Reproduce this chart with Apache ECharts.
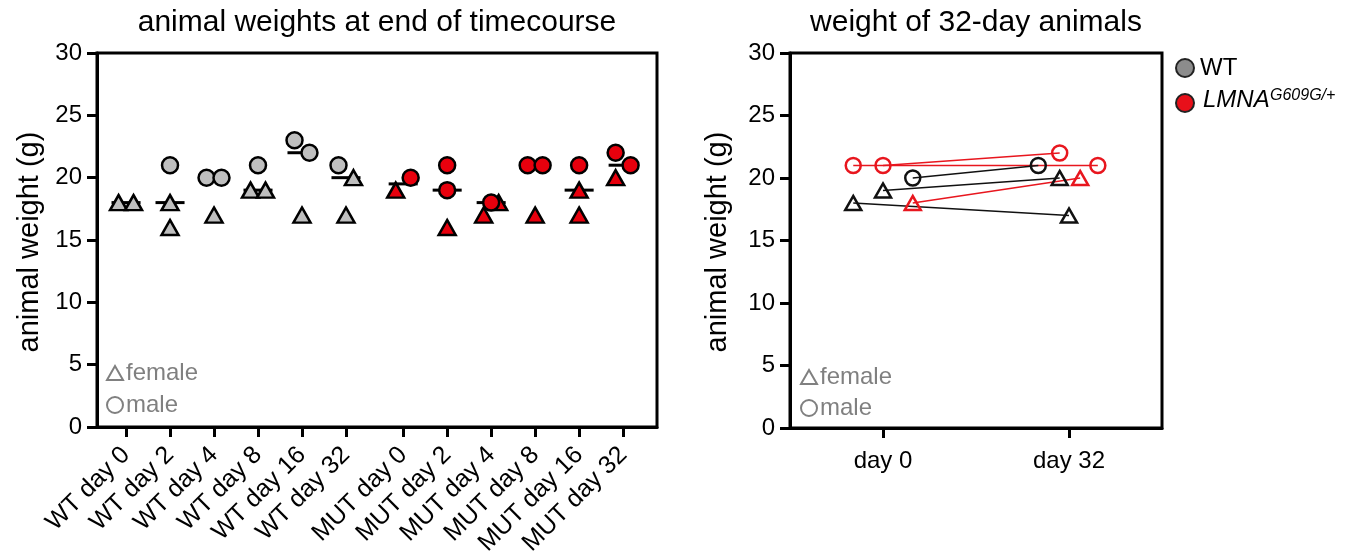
<!DOCTYPE html>
<html><head><meta charset="utf-8">
<script src="https://cdn.jsdelivr.net/npm/echarts@6/dist/echarts.min.js"></script>
<style>html,body{margin:0;padding:0;background:#fff}#c{width:1348px;height:558px}</style>
</head><body><div id="c"></div>
<script>
// ---------- data: left panel ----------
const groups = ['WT day 0','WT day 2','WT day 4','WT day 8','WT day 16','WT day 32',
                'MUT day 0','MUT day 2','MUT day 4','MUT day 8','MUT day 16','MUT day 32'];
const femaleWeights = [[18,18],[18,16],[17],[19,19],[17],[20,17],[19],[16],[17,18],[17],[19,17],[20]];
const femaleSlots   = [[-1,1],[0,0],[0],[-1,1],[0],[1,0],[-1],[0],[-1,1],[0],[0,0],[-1]];
const maleWeights   = [[],[21],[20,20],[21],[23,22],[21],[20],[21,19],[18],[21,21],[21],[22,21]];
const maleSlots     = [[],[0],[-1,1],[0],[-1,1],[-1],[1],[0,0],[0],[-1,1],[0],[-1,1]];

// ---------- data: right panel (one entry per animal) ----------
const dayLabels   = ['day 0','day 32'];
const animalGroup = ['MUT','MUT','WT','WT','WT','MUT'];
const animalSex   = ['male','male','male','female','female','female'];
const weightDay0  = [21,21,20,19,18,18];
const weightDay32 = [21,22,21,20,17,20];
const offsetDay0  = [-0.16,0,0.16,0,-0.16,0.16];
const offsetDay32 = [0.155,-0.05,-0.165,-0.05,0,0.06];

const FONT = 'Liberation Sans, Arial, Helvetica, sans-serif';
const GREY = '#bfbfbf', RED = '#e8000d', LEG = '#808080';
const pos = i => (i < 6 ? i : i + 0.3);
const positions = groups.map((g, i) => pos(i));
const JIT = 0.17;

function pts(weights, slots, from, to) {
  const out = [];
  for (let i = from; i < to; i++) weights[i].forEach((w, k) => out.push([pos(i) + slots[i][k] * JIT, w]));
  return out;
}
function median(a) {
  const s = a.slice().sort((x, y) => x - y), n = s.length;
  return n % 2 ? s[(n - 1) / 2] : (s[n / 2 - 1] + s[n / 2]) / 2;
}
const medians = groups.map((g, i) => [pos(i), median(femaleWeights[i].concat(maleWeights[i]))]);

const mk = (sym, fill, data) => ({
  type: 'scatter', xAxisIndex: 0, yAxisIndex: 0, symbol: sym,
  symbolSize: sym === 'triangle' ? [17, 15] : 16,
  itemStyle: { color: fill, borderColor: '#000', borderWidth: 2.5, opacity: 1 },
  data, z: sym === 'triangle' ? 3 : 4
});

const series = [
  {
    type: 'custom', xAxisIndex: 0, yAxisIndex: 0, z: 2, data: medians, encode: { x: 0, y: 1 },
    renderItem: (p, api) => {
      const x = api.value(0), m = api.value(1);
      const a = api.coord([x - 0.33, m]), b = api.coord([x + 0.33, m]);
      return { type: 'line', shape: { x1: a[0], y1: a[1], x2: b[0], y2: b[1] }, style: { stroke: '#000', lineWidth: 3 } };
    }
  },
  mk('triangle', GREY, pts(femaleWeights, femaleSlots, 0, 6)),
  mk('triangle', RED, pts(femaleWeights, femaleSlots, 6, 12)),
  mk('circle', GREY, pts(maleWeights, maleSlots, 0, 6)),
  mk('circle', RED, pts(maleWeights, maleSlots, 6, 12))
];

weightDay0.forEach((w0, i) => {
  const col = animalGroup[i] === 'WT' ? '#111' : '#e8161e';
  const tri = animalSex[i] === 'female';
  series.push({
    type: 'line', xAxisIndex: 1, yAxisIndex: 1,
    data: [[0 + offsetDay0[i], w0], [1 + offsetDay32[i], weightDay32[i]]],
    symbol: tri ? 'triangle' : 'circle', symbolSize: tri ? [16, 14] : 15, showSymbol: true,
    lineStyle: { color: col, width: 1.5 },
    itemStyle: { color: 'rgba(255,255,255,0)', borderColor: col, borderWidth: 2.5 },
    z: 3
  });
});

const yAxisBase = gi => ({
  type: 'value', gridIndex: gi, min: 0, max: 30, interval: 5,
  axisLine: { show: true, onZero: false, lineStyle: { color: '#000', width: 3 } },
  axisTick: { show: true, length: 10, lineStyle: { color: '#000', width: 3 } },
  axisLabel: { fontSize: 24, color: '#000', fontFamily: FONT, margin: 15 },
  splitLine: { show: false }
});

function sexKey(x, yF, yM) {
  return [
    { type: 'polygon', shape: { points: [[x - 8, yF + 7], [x + 8, yF + 7], [x, yF - 7]] }, style: { fill: 'none', stroke: LEG, lineWidth: 2 } },
    { type: 'text', x: x + 11, y: yF, style: { text: 'female', fontSize: 24, fontFamily: FONT, fill: LEG, align: 'left', verticalAlign: 'middle' } },
    { type: 'circle', shape: { cx: x, cy: yM, r: 8 }, style: { fill: 'none', stroke: LEG, lineWidth: 2 } },
    { type: 'text', x: x + 11, y: yM, style: { text: 'male', fontSize: 24, fontFamily: FONT, fill: LEG, align: 'left', verticalAlign: 'middle' } }
  ];
}

const option = {
  animation: false,
  backgroundColor: '#fff',
  grid: [
    { left: 97, top: 53, width: 560, height: 374, show: true, borderColor: '#000', borderWidth: 3, backgroundColor: 'transparent', outerBoundsMode: 'none' },
    { left: 790, top: 53, width: 372, height: 375, show: true, borderColor: '#000', borderWidth: 3, backgroundColor: 'transparent', outerBoundsMode: 'none' }
  ],
  xAxis: [
    {
      type: 'value', gridIndex: 0, min: -0.66, max: 12.07,
      axisLine: { show: true, onZero: false, lineStyle: { color: '#000', width: 3 } },
      axisTick: { show: true, customValues: positions, length: 10, lineStyle: { color: '#000', width: 3 } },
      axisLabel: {
        customValues: positions, rotate: 45, fontSize: 25, color: '#000', fontFamily: FONT, margin: 24,
        formatter: v => { const i = positions.findIndex(p => Math.abs(p - v) < 1e-6); return i >= 0 ? groups[i] : ''; }
      },
      splitLine: { show: false }
    },
    {
      type: 'value', gridIndex: 1, min: -0.5, max: 1.5,
      axisLine: { show: true, onZero: false, lineStyle: { color: '#000', width: 3 } },
      axisTick: { show: true, customValues: [0, 1], length: 10, lineStyle: { color: '#000', width: 3 } },
      axisLabel: {
        customValues: [0, 1], fontSize: 24, color: '#000', fontFamily: FONT, margin: 21,
        formatter: v => dayLabels[Math.round(v)] || ''
      },
      splitLine: { show: false }
    }
  ],
  yAxis: [yAxisBase(0), yAxisBase(1)],
  series,
  graphic: [
    { type: 'text', x: 377, y: 23, style: { text: 'animal weights at end of timecourse', fontSize: 30, fontFamily: FONT, fill: '#000', align: 'center', verticalAlign: 'middle' } },
    { type: 'text', x: 976, y: 23, style: { text: 'weight of 32-day animals', fontSize: 30, fontFamily: FONT, fill: '#000', align: 'center', verticalAlign: 'middle' } },
    { type: 'text', x: 30, y: 242, rotation: Math.PI / 2, style: { text: 'animal weight (g)', fontSize: 29, fontFamily: FONT, fill: '#000', align: 'center', verticalAlign: 'middle' } },
    { type: 'text', x: 718, y: 242, rotation: Math.PI / 2, style: { text: 'animal weight (g)', fontSize: 29, fontFamily: FONT, fill: '#000', align: 'center', verticalAlign: 'middle' } },
    ...sexKey(115, 373, 405),
    ...sexKey(809, 377, 408),
    { type: 'circle', shape: { cx: 1185, cy: 68, r: 9 }, style: { fill: '#8c8c8c', stroke: '#222', lineWidth: 2 } },
    { type: 'text', x: 1200, y: 68, style: { text: 'WT', fontSize: 24, fontFamily: FONT, fill: '#000', align: 'left', verticalAlign: 'middle' } },
    { type: 'circle', shape: { cx: 1185, cy: 103, r: 9 }, style: { fill: '#e8101a', stroke: '#222', lineWidth: 2 } },
    { type: 'text', x: 1203, y: 100, style: { text: 'LMNA', fontSize: 24, fontStyle: 'italic', fontFamily: FONT, fill: '#000', align: 'left', verticalAlign: 'middle' } },
    { type: 'text', x: 1270, y: 96, style: { text: 'G609G/+', fontSize: 16, fontStyle: 'italic', fontFamily: FONT, fill: '#000', align: 'left', verticalAlign: 'middle' } }
  ]
};
echarts.init(document.getElementById('c')).setOption(option);
</script></body></html>
